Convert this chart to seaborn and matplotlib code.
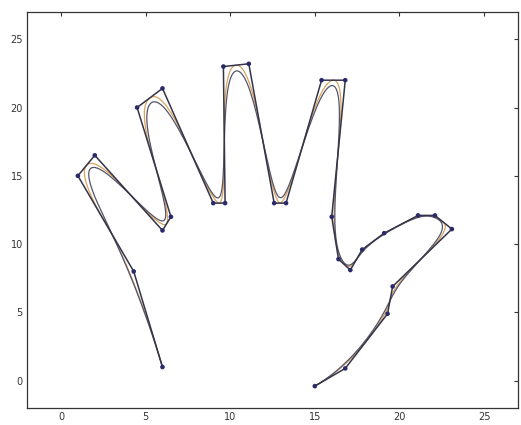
import numpy as np
import pandas as pd
import matplotlib
matplotlib.use("Agg")
import matplotlib.pyplot as plt
import seaborn as sns

# Control polygon of the hand
hand_x = [6.0, 4.3, 1.0, 2.0, 6.0, 6.5, 4.5, 6.0, 9.0, 9.7, 9.6, 11.1, 12.6, 13.3,
          15.4, 16.8, 16.0, 16.4, 17.1, 17.8, 19.1, 21.1, 22.1, 23.1, 19.6, 19.3,
          16.8, 15.0]
hand_y = [1.0, 8.0, 15.0, 16.5, 11.0, 12.0, 20.0, 21.4, 13.0, 13.0, 23.0, 23.2, 13.0, 13.0,
          22.0, 22.0, 12.0, 8.9, 8.1, 9.6, 10.8, 12.1, 12.1, 11.1, 6.9, 4.9,
          0.9, -0.4]

# spline orders drawn over the polygon
orders = [3, 4]
tick_vals = [0, 5, 10, 15, 20, 25]


def bspline(px, py, k, num=600):
    # clamped uniform B-spline of order k (Cox-de Boor)
    n = len(px)
    p = k - 1
    inner = np.linspace(0, 1, n - p + 1)
    knots = np.concatenate([np.zeros(p), inner, np.ones(p)])
    t = np.linspace(0, 1, num)
    t[-1] = 1 - 1e-9
    N = np.zeros((num, len(knots) - 1))
    for i in range(len(knots) - 1):
        N[:, i] = (t >= knots[i]) & (t < knots[i + 1])
    for d in range(1, k):
        newN = np.zeros((num, len(knots) - 1 - d))
        for i in range(len(knots) - 1 - d):
            a = knots[i + d] - knots[i]
            b = knots[i + d + 1] - knots[i + 1]
            left = (t - knots[i]) / a * N[:, i] if a > 0 else 0
            right = (knots[i + d + 1] - t) / b * N[:, i + 1] if b > 0 else 0
            newN[:, i] = left + right
        N = newN
    return N @ np.array(px), N @ np.array(py)


df = pd.DataFrame({"x": hand_x, "y": hand_y, "i": range(len(hand_x))})

sns.set_style("white")
fig = plt.figure(figsize=(5.21, 4.25), dpi=100)
ax = fig.add_axes([0.052, 0.04, 0.942, 0.932])

# order 3 = light orange, order 4 = dark grey
curve_colors = {3: "#d9a460", 4: "#55556a"}
for k in orders:
    cx, cy = bspline(hand_x, hand_y, k)
    cdf = pd.DataFrame({"x": cx, "y": cy})
    sns.lineplot(data=cdf, x="x", y="y", sort=False, estimator=None, ax=ax,
                 color=curve_colors[k], linewidth=0.9)

sns.lineplot(data=df, x="x", y="y", sort=False, estimator=None, ax=ax,
             color="#34344a", linewidth=1.1)
sns.scatterplot(data=df, x="x", y="y", ax=ax, color="#2a2a6a", s=11,
                edgecolor="none", zorder=5)

ax.set_xlim(-2, 27)
ax.set_ylim(-2, 27)
ax.set_xticks(tick_vals)
ax.set_yticks(tick_vals)
ax.set_xlabel("")
ax.set_ylabel("")
ax.tick_params(direction="in", length=3, labelsize=7, top=True, right=True,
               colors="#333333", pad=3)
for s in ax.spines.values():
    s.set_color("#333333")
    s.set_linewidth(0.9)

fig.savefig("out.png", dpi=100)
